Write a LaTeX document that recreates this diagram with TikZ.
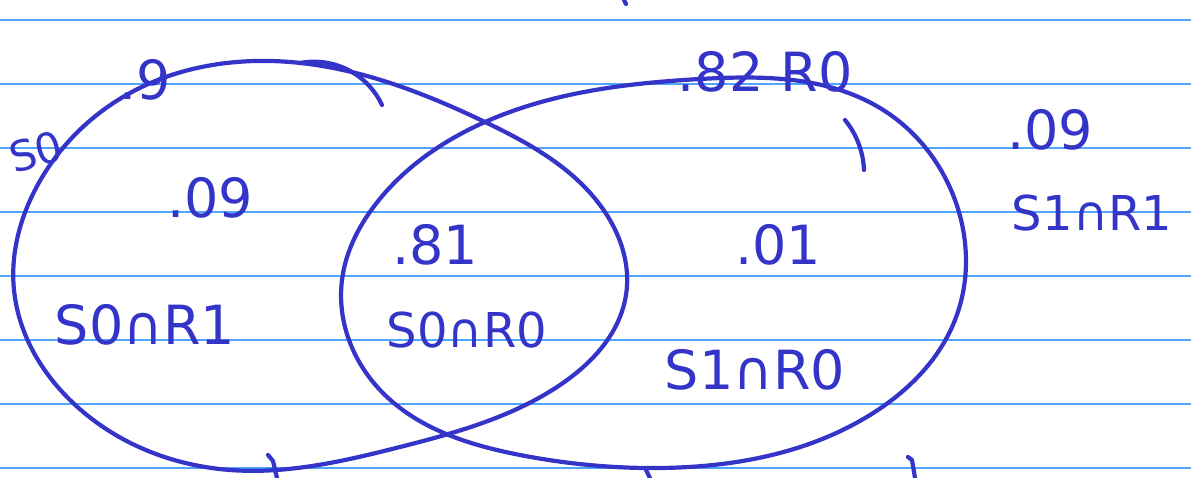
\documentclass[tikz,border=0pt]{standalone}
\usepackage{fontspec}
\setmainfont{DejaVu Sans}
\usetikzlibrary{hobby}
\definecolor{ink}{RGB}{52,52,200}
\definecolor{rule}{RGB}{80,165,255}
\tikzset{
  ruleline/.style={draw=rule, line width=1.4pt},
  stroke/.style={draw=ink, line width=4.2pt, line cap=round, line join=round},
  hand/.style={text=ink, inner sep=0pt, font=\fontsize{54}{62}\selectfont},
  handsmall/.style={text=ink, inner sep=0pt, font=\fontsize{48}{56}\selectfont}
}
\begin{document}
\begin{tikzpicture}[x=1pt,y=-1pt]
\useasboundingbox (0,0) rectangle (1191,478);
\fill[white] (0,0) rectangle (1191,478);
% ruled paper
\foreach \y in {20,84,148,212,276,340,404,468}
  \draw[ruleline] (0,\y) -- (1191,\y);
% left set
\draw[stroke, use Hobby shortcut, closed=true]
  (14,290) .. (70,400) .. (230,470) .. (400,447) .. (560,385) .. (626,295)
  .. (600,205) .. (485,122) .. (290,62) .. (130,93) .. (35,190);
\draw[stroke, use Hobby shortcut] (300,63) .. (352,72) .. (382,105);
% right set
\draw[stroke, use Hobby shortcut, closed=true]
  (342,280) .. (380,390) .. (520,455) .. (660,468) .. (870,415) .. (955,320)
  .. (955,200) .. (880,108) .. (700,79) .. (485,122) .. (375,205);
\draw[stroke, use Hobby shortcut] (845,120) .. (858,142) .. (864,170);
% stray ticks
\draw[stroke] (268,455) -- (273,461) -- (277,478);
\draw[stroke] (646,470) -- (650,478);
\draw[stroke] (908,457) -- (912,460) -- (915,478);
\draw[stroke] (624,0) -- (626,4);
% labels
\node[text=ink, inner sep=0pt, font=\fontsize{42}{50}\selectfont, rotate=15] (s0) at (36,152) {S0};
\node[hand] (pS0) at (145,80) {.9};
\node[hand] (a) at (210,198) {.09};
\node[hand] (al) at (145,325) {S0∩R1};
\node[hand] (b) at (435,245) {.81};
\node[handsmall] (bl) at (467,330) {S0∩R0};
\node[hand] (c) at (778,245) {.01};
\node[hand] (cl) at (755,370) {S1∩R0};
\node[hand] (pR0) at (765,72) {.82 R0};
\node[hand] (d) at (1050,130) {.09};
\node[handsmall] (dl) at (1092,213) {S1∩R1};
\end{tikzpicture}
\end{document}
